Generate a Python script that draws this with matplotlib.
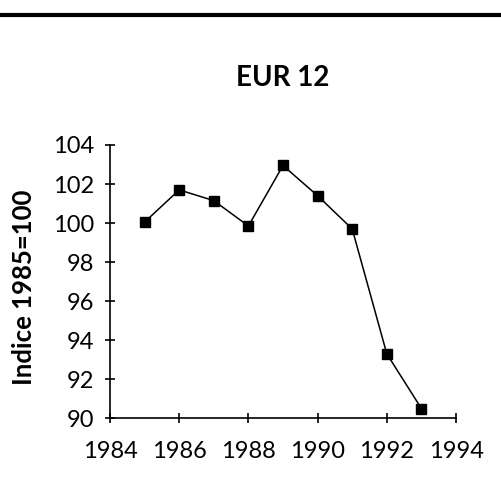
import numpy as np
import matplotlib
matplotlib.use("Agg")
from matplotlib import pyplot as plt

# data
years = [1985, 1986, 1987, 1988, 1989, 1990, 1991, 1992, 1993]
indice = [100.05, 101.7, 101.15, 99.85, 102.95, 101.4, 99.7, 93.3, 90.5]
x_ticks = [1984, 1986, 1988, 1990, 1992, 1994]
y_ticks = [90, 92, 94, 96, 98, 100, 102, 104]

plt.rcParams['font.family'] = ['Lato', 'DejaVu Sans']

fig = plt.figure(figsize=(5.02, 4.83), dpi=100)
ax = fig.add_axes([0.2191, 0.134, 0.6893, 0.5658])

ax.plot(years, indice, color='black', lw=1.1, marker='s', ms=7,
        mfc='black', mec='black')

ax.set_xlim(1984, 1994)
ax.set_ylim(90, 104)
ax.set_xticks(x_ticks)
ax.set_yticks(y_ticks)
ax.tick_params(direction='inout', length=7, width=1.2, labelsize=17)
ax.tick_params(axis='x', pad=13)
ax.tick_params(axis='y', pad=8)
for s in ['top', 'right']:
    ax.spines[s].set_visible(False)
for s in ['left', 'bottom']:
    ax.spines[s].set_linewidth(1.2)

fig.text(0.048, 0.406, "Indice 1985=100", fontsize=18.5, fontweight='bold',
         rotation=90, ha='center', va='center')
fig.text(0.564, 0.8385, "EUR 12", fontsize=20, fontweight='bold',
         ha='center', va='center')

# thick rule at the top of the page
fig.add_artist(plt.Line2D([0, 1], [0.968, 0.968], color='black', lw=3,
                          transform=fig.transFigure))

fig.savefig('out.png', dpi=100)
